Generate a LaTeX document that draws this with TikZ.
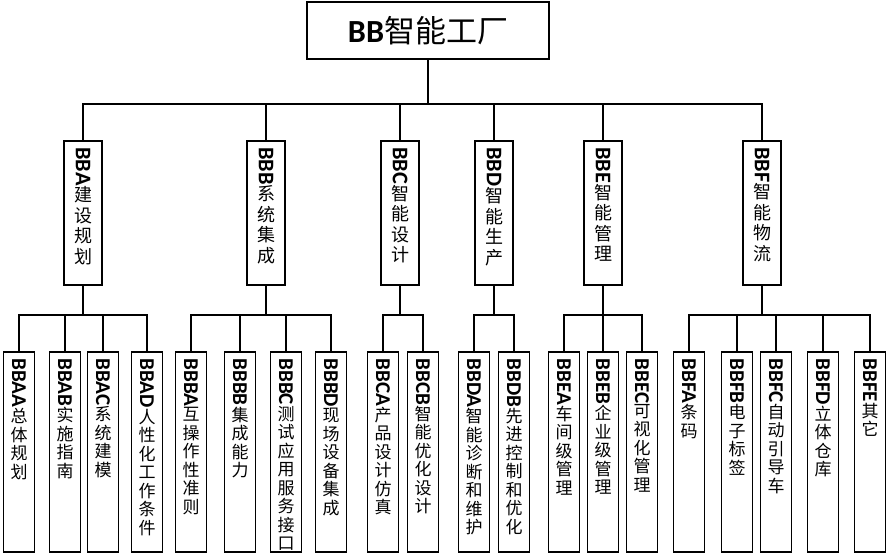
\documentclass[tikz,border=0pt]{standalone}
\usepackage{fontspec}
\usepackage{graphicx}
\setmainfont{Carlito}[Scale=1.24]
\newfontfamily\cjk{Noto Sans CJK SC}
\makeatletter
% latin code turned clockwise, chinese characters stacked upright
\newcommand\vstack[1]{\@tfor\ch:=#1\do{\expandafter\\\ch}}
\newcommand\vtext[2]{\rotatebox[origin=c]{-90}{\rmfamily\bfseries #1}\expandafter\vstack\expandafter{#2}}
\makeatother
\tikzset{
  link/.style={line width=1.6pt},
  rootbox/.style={draw, line width=1.6pt, minimum width=242pt, minimum height=57pt, inner sep=0pt, font=\cjk\fontsize{31}{34}\selectfont},
  midbox/.style={draw, line width=1.6pt, minimum width=38pt, minimum height=144pt, inner sep=0pt},
  leafbox/.style={draw, line width=1.6pt, minimum width=31pt, minimum height=200pt, inner sep=0pt},
  midlabel/.style={anchor=north, align=center, inner sep=0pt, font=\cjk\fontsize{18}{20.5}\selectfont},
  leaflabel/.style={anchor=north, align=center, inner sep=0pt, font=\cjk\fontsize{17}{18.5}\selectfont}
}
\begin{document}
\begin{tikzpicture}[x=1pt, y=-1pt, line cap=rect]
  \useasboundingbox (0,0) rectangle (887,555);
  \lineskip=1pt
  \node[rootbox] (root) at (428,30.5) {{\rmfamily\bfseries\fontsize{26}{30}\selectfont BB}智能工厂};
  \coordinate (bus1) at (0,104);
  \coordinate (bus2) at (0,315);
  % second level
  \foreach \x/\n/\code/\txt in {83/bba/BBA/建设规划, 266/bbb/BBB/系统集成,
      400/bbc/BBC/智能设计, 494/bbd/BBD/智能生产, 603/bbe/BBE/智能管理, 762/bbf/BBF/智能物流} {
    \node[midbox] (\n) at (\x,213) {};
    \node[midlabel] (\n-t) at ([yshift=-7pt]\n.north) {\vtext{\code}{\txt}};
    \draw[link] (root.south) |- (bus1 -| \n) -- (\n.north);
  }
  % third level
  \foreach \x/\n/\p/\code/\txt in {19/bbaa/bba/BBAA/总体规划, 65/bbab/bba/BBAB/实施指南,
      103/bbac/bba/BBAC/系统建模, 147/bbad/bba/BBAD/人性化工作条件,
      191/bbba/bbb/BBBA/互操作性准则, 240/bbbb/bbb/BBBB/集成能力,
      286/bbbc/bbb/BBBC/测试应用服务接口, 331/bbbd/bbb/BBBD/现场设备集成,
      383/bbca/bbc/BBCA/产品设计仿真, 423/bbcb/bbc/BBCB/智能优化设计,
      474/bbda/bbd/BBDA/智能诊断和维护, 514/bbdb/bbd/BBDB/先进控制和优化,
      564/bbea/bbe/BBEA/车间级管理, 603/bbeb/bbe/BBEB/企业级管理, 642/bbec/bbe/BBEC/可视化管理,
      689/bbfa/bbf/BBFA/条码, 737/bbfb/bbf/BBFB/电子标签, 776/bbfc/bbf/BBFC/自动引导车,
      823/bbfd/bbf/BBFD/立体仓库, 870/bbfe/bbf/BBFE/其它} {
    \node[leafbox] (\n) at (\x,452) {};
    \node[leaflabel] (\n-t) at ([yshift=-7pt]\n.north) {\vtext{\code}{\txt}};
    \draw[link] (\p.south) |- (bus2 -| \n) -- (\n.north);
  }
\end{tikzpicture}
\end{document}
